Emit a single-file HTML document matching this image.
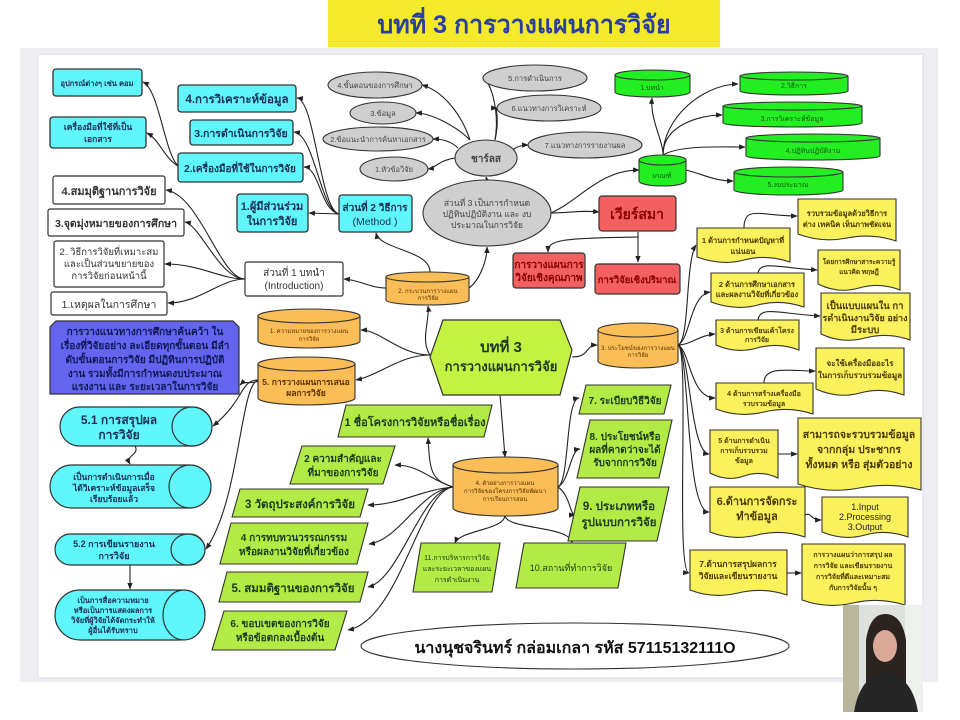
<!DOCTYPE html>
<html><head><meta charset="utf-8"><style>
html,body{margin:0;padding:0;background:#fff;}
svg{display:block;font-family:"Liberation Sans","DejaVu Sans",sans-serif;}
.b{font-weight:bold;}
</style></head><body>
<svg width="960" height="720" viewBox="0 0 960 720" xmlns="http://www.w3.org/2000/svg">
<defs>
<marker id="a" viewBox="0 0 10 10" refX="9" refY="5" markerWidth="6" markerHeight="6" orient="auto"><path d="M0 1 L10 5 L0 9 Z" fill="#222"/></marker>
</defs>
<rect width="960" height="720" fill="#fff"/>
<rect x="20" y="48" width="918" height="634" fill="#eeeef2"/>
<rect x="38" y="54" width="885" height="624" fill="#fff" stroke="#dcdce4"/>
<rect x="328" y="0" width="392" height="47" fill="#f4ea2a"/>
<text x="524" y="33" text-anchor="middle" class="b" font-size="25" fill="#2a3fa0">บทที่ 3 การวางแผนการวิจัย</text>

<g fill="none" stroke="#222" stroke-width="1.1" marker-end="url(#a)">
<path d="M180 167 C165 160 160 90 143 82"/>
<path d="M180 167 C165 160 160 140 147 133"/>
<path d="M339 214 C320 210 315 100 297 98"/>
<path d="M339 214 C320 210 315 135 294 132"/>
<path d="M339 214 C320 210 320 168 304 167"/>
<path d="M339 214 L309 213"/>
<path d="M245 279 C220 279 200 195 166 190"/>
<path d="M245 279 C220 279 200 225 185 222"/>
<path d="M245 279 C220 279 200 264 165 264"/>
<path d="M245 279 C220 279 200 303 168 303"/>
<path d="M386 288 C370 288 360 280 344 279"/>
<path d="M430 272 C430 250 380 250 376 233"/>
<path d="M469 288 C480 280 487 260 487 247"/>
<path d="M487 180 L486 177"/>
<path d="M455 158 C440 160 435 168 428 169"/>
<path d="M470 140 C460 110 440 90 422 85"/>
<path d="M470 140 C455 125 430 113 416 113"/>
<path d="M458 148 C450 140 440 139 433 139"/>
<path d="M495 140 C500 110 490 80 483 78"/>
<path d="M495 140 C500 120 495 108 497 108"/>
<path d="M512 150 C520 145 525 145 528 145"/>
<path d="M551 213 C570 213 580 210 599 212"/>
<path d="M551 213 C580 200 600 170 639 170"/>
<path d="M638 232 L638 262"/>
<path d="M638 237 C560 238 548 240 548 252"/>
<path d="M663 155 C663 140 650 120 652 98"/>
<path d="M663 155 C663 120 700 85 738 84"/>
<path d="M663 155 C663 125 700 115 722 115"/>
<path d="M663 155 C680 145 720 147 745 147"/>
<path d="M686 170 C705 175 715 181 733 181"/>
<path d="M430 355 C400 355 380 330 361 330"/>
<path d="M430 355 C400 355 380 375 356 380"/>
<path d="M430 355 C420 340 430 320 428 306"/>
<path d="M258 381 C250 385 245 380 240 385"/>
<path d="M572 357 C590 357 585 345 597 345"/>
<path d="M678 345 C690 340 685 262 696 245"/>
<path d="M678 345 C690 340 690 295 710 292"/>
<path d="M678 345 C690 345 700 335 715 334"/>
<path d="M678 345 C690 350 690 398 715 398"/>
<path d="M678 345 C690 350 690 452 709 454"/>
<path d="M678 345 C690 350 685 512 709 512"/>
<path d="M678 345 C690 350 675 572 689 573"/>
<path d="M744 228 C744 205 760 216 797 216"/>
<path d="M758 273 C760 260 780 268 817 270"/>
<path d="M758 320 C760 305 780 314 820 316"/>
<path d="M764 383 C764 365 790 371 815 371"/>
<path d="M778 454 L797 454"/>
<path d="M805 515 C812 512 810 520 821 520"/>
<path d="M787 573 L801 573"/>
<path d="M500 395 L505 457"/>
<path d="M453 487 C430 480 430 470 428 438"/>
<path d="M453 487 C430 480 420 465 395 465"/>
<path d="M453 487 C420 490 400 505 368 505"/>
<path d="M453 487 C420 490 400 540 369 544"/>
<path d="M453 487 C420 490 400 580 368 587"/>
<path d="M453 487 C420 490 400 620 348 630"/>
<path d="M558 487 C570 480 565 400 579 398"/>
<path d="M558 487 C570 480 570 450 580 449"/>
<path d="M558 487 C570 495 570 515 575 515"/>
<path d="M505 515 C505 530 460 530 455 543"/>
<path d="M505 515 C505 530 570 525 572 543"/>
<path d="M258 380 C240 380 245 400 213 426"/>
<path d="M258 380 C240 385 240 500 206 549"/>
<path d="M135 446 C140 455 125 455 130 464"/>
<path d="M130 565 L130 589"/>
</g>

<g stroke="#333" stroke-width="1.3" fill="#5ff6fc">
<rect x="53" y="69" width="89" height="27" rx="3"/>
<rect x="50" y="117" width="96" height="31" rx="3"/>
<rect x="178" y="85" width="118" height="27" rx="3"/>
<rect x="190" y="120" width="103" height="25" rx="3"/>
<rect x="178" y="153" width="125" height="29" rx="3"/>
<rect x="237" y="194" width="71" height="38" rx="3"/>
<rect x="339" y="195" width="73" height="37" rx="3"/>
</g>
<g fill="#1d2d55" class="b" text-anchor="middle">
<text x="97" y="86" font-size="7.5">อุปกรณ์ต่างๆ เช่น คอม</text>
<text x="98" y="130" font-size="8.5">เครื่องมือที่ใช้ที่เป็น</text><text x="98" y="142" font-size="8.5">เอกสาร</text>
<text x="237" y="103" font-size="11.5">4.การวิเคราะห์ข้อมูล</text>
<text x="241" y="137" font-size="10.5">3.การดำเนินการวิจัย</text>
<text x="240" y="172" font-size="10">2.เครื่องมือที่ใช้ในการวิจัย</text>
<text x="272" y="210" font-size="11">1.ผู้มีส่วนร่วม</text><text x="272" y="225" font-size="11">ในการวิจัย</text>
<text x="375" y="211" font-size="10">ส่วนที่ 2 วิธีการ</text><text x="375" y="225" font-size="10.5" font-weight="normal">(Method )</text>
</g>
<g stroke="#333" stroke-width="1.2" fill="#fff">
<rect x="53" y="176" width="112" height="28" rx="2"/>
<rect x="48" y="209" width="136" height="27" rx="2"/>
<rect x="54" y="241" width="110" height="46" rx="2"/>
<rect x="51" y="292" width="116" height="23" rx="2"/>
<rect x="245" y="262" width="98" height="34" rx="2"/>
</g>
<g fill="#333" text-anchor="middle">
<text x="109" y="195" font-size="11" class="b">4.สมมุติฐานการวิจัย</text>
<text x="116" y="227" font-size="10.5" class="b">3.จุดมุ่งหมายของการศึกษา</text>
<text x="109" y="255" font-size="9.5">2. วิธีการวิจัยที่เหมาะสม</text>
<text x="109" y="267" font-size="9.5">และเป็นส่วนขยายของ</text>
<text x="109" y="279" font-size="9.5">การวิจัยก่อนหน้านี้</text>
<text x="109" y="308" font-size="10.5">1.เหตุผลในการศึกษา</text>
<text x="294" y="276" font-size="10">ส่วนที่ 1 บทนำ</text><text x="294" y="289" font-size="10">(Introduction)</text>
</g>
<g stroke="#333" stroke-width="1.1" fill="#cfcfcf">
<ellipse cx="375" cy="85" rx="47" ry="13"/>
<ellipse cx="383" cy="113" rx="33" ry="11"/>
<ellipse cx="378" cy="139" rx="55" ry="12"/>
<ellipse cx="394" cy="169" rx="34" ry="12"/>
<ellipse cx="486" cy="158" rx="31" ry="18"/>
<ellipse cx="535" cy="78" rx="52" ry="13"/>
<ellipse cx="549" cy="108" rx="52" ry="13"/>
<ellipse cx="585" cy="145" rx="57" ry="13"/>
<ellipse cx="487" cy="213" rx="64" ry="33"/>
</g>
<g fill="#444" text-anchor="middle" font-size="7.5">
<text x="375" y="88">4.ขั้นตอนของการศึกษา</text>
<text x="383" y="116">3.ข้อมูล</text>
<text x="378" y="142">2.ข้อแนะนำการค้นหาเอกสาร</text>
<text x="394" y="172">1.หัวข้อวิจัย</text>
<text x="486" y="162" font-size="10" class="b">ชาร์ลส</text>
<text x="535" y="81">5.การดำเนินการ</text>
<text x="549" y="111">6.แนวทางการวิเคราะห์</text>
<text x="585" y="148">7.แนวทางการรายงานผล</text>
<text x="487" y="206" font-size="8.5">ส่วนที่ 3 เป็นการกำหนด</text>
<text x="487" y="217" font-size="8.5">ปฏิทินปฏิบัติงาน และ งบ</text>
<text x="487" y="228" font-size="8.5">ประมาณในการวิจัย</text>
</g>
<g stroke="#333" stroke-width="1.1" fill="#22ee22">
<path d="M615 75 V92 A37.5 5 0 0 0 690 92 V75"/><ellipse cx="652.5" cy="75" rx="37.5" ry="5"/>
<path d="M740 76 V91 A54 4 0 0 0 848 91 V76"/><ellipse cx="794" cy="76" rx="54" ry="4"/>
<path d="M723 106 V123 A69.5 4 0 0 0 862 123 V106"/><ellipse cx="792.5" cy="106" rx="69.5" ry="4"/>
<path d="M746 138 V156 A67 4 0 0 0 880 156 V138"/><ellipse cx="813" cy="138" rx="67" ry="4"/>
<path d="M734 172 V190 A54.5 5 0 0 0 843 190 V172"/><ellipse cx="788.5" cy="172" rx="54.5" ry="5"/>
<path d="M639 160 V181 A23.5 5 0 0 0 686 181 V160"/><ellipse cx="662.5" cy="160" rx="23.5" ry="5"/>
</g>
<g fill="#115511" text-anchor="middle" font-size="7">
<text x="652" y="90">1.บทนำ</text><text x="794" y="88">2.วิธีการ</text>
<text x="792" y="121">3.การวิเคราะห์ข้อมูล</text><text x="813" y="153">4.ปฏิทินปฏิบัติงาน</text>
<text x="788" y="187">5.งบประมาณ</text><text x="662" y="178">เกณฑ์</text>
</g>
<g stroke="#333" stroke-width="1.2" fill="#f26060">
<rect x="599" y="196" width="77" height="35" rx="3"/>
<rect x="513" y="253" width="72" height="35" rx="3"/>
<rect x="595" y="264" width="85" height="30" rx="3"/>
</g>
<g fill="#8a0000" class="b" text-anchor="middle">
<text x="637" y="219" font-size="14">เวียร์สมา</text>
<text x="549" y="268" font-size="10">การวางแผนการ</text><text x="549" y="281" font-size="10">วิจัยเชิงคุณภาพ</text>
<text x="637" y="283" font-size="9.5">การวิจัยเชิงปริมาณ</text>
</g>
<g stroke="#333" stroke-width="1.1" fill="#fbbd55">
<path d="M386 277 V300 A41.5 5 0 0 0 469 300 V277"/><ellipse cx="427.5" cy="277" rx="41.5" ry="5"/>
<path d="M258 316 V341 A51 7 0 0 0 360 341 V316"/><ellipse cx="309" cy="316" rx="51" ry="7"/>
<path d="M258 364 V398 A48.5 7 0 0 0 355 398 V364"/><ellipse cx="306.5" cy="364" rx="48.5" ry="7"/>
<path d="M598 330 V361 A40 7 0 0 0 678 361 V330"/><ellipse cx="638" cy="330" rx="40" ry="7"/>
<path d="M453 465 V508 A52.5 8 0 0 0 558 508 V465"/><ellipse cx="505.5" cy="465" rx="52.5" ry="8"/>
</g>
<g fill="#5a3300" text-anchor="middle" font-size="6">
<text x="428" y="293">2. กระบวนการวางแผน</text><text x="428" y="300">การวิจัย</text>
<text x="309" y="333">1. ความหมายของการวางแผน</text><text x="309" y="341">การวิจัย</text>
<text x="306" y="385" font-size="8.5" class="b">5. การวางแผนการเสนอ</text><text x="306" y="396" font-size="8.5" class="b">ผลการวิจัย</text>
<text x="638" y="350">3. ประโยชน์ของการวางแผน</text><text x="638" y="357">การวิจัย</text>
<text x="505" y="485">4. ตัวอย่างการวางแผน</text><text x="505" y="493">การวิจัยของโครงการวิจัยพัฒนา</text><text x="505" y="501">การเรียนการสอน</text>
</g>
<path d="M56 321 H233 L239 327 V394 H50 V327 Z" fill="#6464ee" stroke="#333" stroke-width="1.2"/>
<g fill="#111a55" text-anchor="middle" font-size="10" class="b">
<text x="145" y="335">การวางแนวทางการศึกษาค้นคว้า ใน</text>
<text x="145" y="349">เรื่องที่วิจัยอย่าง ละเอียดทุกขั้นตอน มีลำ</text>
<text x="145" y="363">ดับขั้นตอนการวิจัย มีปฏิทินการปฏิบัติ</text>
<text x="145" y="377">งาน รวมทั้งมีการกำหนดงบประมาณ</text>
<text x="145" y="390">แรงงาน และ ระยะเวลาในการวิจัย</text>
</g>
<path d="M443 320 H560 L572 350 L560 395 H443 L430 357 Z" fill="#c4f242" stroke="#333" stroke-width="1.2"/>
<text x="501" y="352" text-anchor="middle" class="b" font-size="15" fill="#1d3a1d">บทที่ 3</text>
<text x="501" y="371" text-anchor="middle" class="b" font-size="13" fill="#1d3a1d">การวางแผนการวิจัย</text>
<g stroke="#333" stroke-width="1.2" fill="#5ff6fc">
<rect x="60" y="407" width="152" height="39" rx="19.5"/><ellipse cx="192" cy="426.5" rx="20" ry="19.5"/>
<rect x="50" y="465" width="161" height="43" rx="21.5"/><ellipse cx="190" cy="486.5" rx="21" ry="21.5"/>
<rect x="55" y="534" width="150" height="31" rx="15.5"/><ellipse cx="188" cy="549.5" rx="17" ry="15.5"/>
<rect x="55" y="590" width="150" height="50" rx="25"/><ellipse cx="184" cy="615" rx="21" ry="25"/>
</g>
<g fill="#1d2d55" class="b" text-anchor="middle">
<text x="119" y="424" font-size="12">5.1 การสรุปผล</text><text x="119" y="439" font-size="12">การวิจัย</text>
<text x="114" y="480" font-size="8.5">เป็นการดำเนินการเมื่อ</text><text x="114" y="491" font-size="8.5">ได้วิเคราะห์ข้อมูลเสร็จ</text><text x="114" y="502" font-size="8.5">เรียบร้อยแล้ว</text>
<text x="114" y="547" font-size="9">5.2 การเขียนรายงาน</text><text x="114" y="559" font-size="9">การวิจัย</text>
<text x="113" y="603" font-size="7.5">เป็นการสื่อความหมาย</text><text x="113" y="613" font-size="7.5">หรือเป็นการแสดงผลการ</text><text x="113" y="623" font-size="7.5">วิจัยที่ผู้วิจัยได้จัดกระทำให้</text><text x="113" y="633" font-size="7.5">ผู้อื่นได้รับทราบ</text>
</g>
<g stroke="#333" stroke-width="1.1" fill="#b2ea46">
<path d="M346 405 H492 L484 437 H338 Z"/>
<path d="M302 446 H395 L383 484 H290 Z"/>
<path d="M240 489 H368 L360 517 H232 Z"/>
<path d="M231 523 H368 L357 564 H220 Z"/>
<path d="M227 572 H368 L360 602 H219 Z"/>
<path d="M224 611 H347 L335 650 H212 Z"/>
<path d="M586 385 H671 L664 414 H579 Z"/>
<path d="M590 420 H672 L659 478 H577 Z"/>
<path d="M580 487 H669 L657 541 H568 Z"/>
<path d="M421 543 H500 L492 592 H413 Z"/>
<path d="M524 543 H626 L618 588 H516 Z"/>
</g>
<g fill="#1d3a1d" text-anchor="middle" class="b">
<text x="415" y="426" font-size="11">1 ชื่อโครงการวิจัยหรือชื่อเรื่อง</text>
<text x="343" y="462" font-size="10">2 ความสำคัญและ</text><text x="343" y="476" font-size="10">ที่มาของการวิจัย</text>
<text x="300" y="508" font-size="11.5">3 วัตถุประสงค์การวิจัย</text>
<text x="294" y="541" font-size="10">4 การทบทวนวรรณกรรม</text><text x="294" y="555" font-size="10">หรือผลงานวิจัยที่เกี่ยวข้อง</text>
<text x="293" y="592" font-size="11.5">5. สมมติฐานของการวิจัย</text>
<text x="280" y="627" font-size="10">6. ขอบเขตของการวิจัย</text><text x="280" y="641" font-size="10">หรือข้อตกลงเบื้องต้น</text>
<text x="625" y="404" font-size="10">7. ระเบียบวิธีวิจัย</text>
<text x="625" y="440" font-size="10">8. ประโยชน์หรือ</text><text x="625" y="453" font-size="10">ผลที่คาดว่าจะได้</text><text x="625" y="466" font-size="10">รับจากการวิจัย</text>
<text x="619" y="510" font-size="11.5">9. ประเภทหรือ</text><text x="619" y="526" font-size="11.5">รูปแบบการวิจัย</text>
<text x="457" y="560" font-size="7" font-weight="normal">11.การบริหารการวิจัย</text><text x="457" y="571" font-size="7" font-weight="normal">และระยะเวลาของแผน</text><text x="457" y="582" font-size="7" font-weight="normal">การดำเนินงาน</text>
<text x="571" y="571" font-size="9" font-weight="normal">10.สถานที่ทำการวิจัย</text>
</g>
<g stroke="#333" stroke-width="1.1" fill="#fbf15c">
<path d="M697 228 H790 V262 Q766 254 744 260 T697 257 Z"/>
<path d="M798 199 H896 V241 Q872 233 847 238 T798 234 Z"/>
<path d="M711 273 H804 V307 Q780 299 758 305 T711 302 Z"/>
<path d="M818 250 H900 V290 Q880 282 859 288 T818 284 Z"/>
<path d="M716 320 H799 V350 Q778 342 757 348 T716 345 Z"/>
<path d="M821 293 H910 V340 Q888 332 865 338 T821 334 Z"/>
<path d="M716 383 H813 V414 Q789 406 764 412 T716 409 Z"/>
<path d="M816 348 H904 V395 Q882 387 860 393 T816 389 Z"/>
<path d="M710 430 H778 V478 Q761 470 744 476 T710 473 Z"/>
<path d="M798 418 H921 V490 Q890 482 859 488 T798 484 Z"/>
<path d="M710 487 H805 V537 Q781 529 757 535 T710 532 Z"/>
<path d="M822 497 H908 V537 Q886 529 865 535 T822 532 Z"/>
<path d="M690 550 H787 V595 Q763 587 738 593 T690 590 Z"/>
<path d="M802 544 H905 V605 Q879 597 853 603 T802 600 Z"/>
</g>
<g fill="#4a3a00" text-anchor="middle" class="b">
<text x="743" y="243" font-size="7.5">1 ด้านการกำหนดปัญหาที่</text><text x="743" y="254" font-size="7.5">แน่นอน</text>
<text x="847" y="216" font-size="7.5">รวบรวมข้อมูลด้วยวิธีการ</text><text x="847" y="227" font-size="7.5">ต่าง เทคนิค เห็นภาพชัดเจน</text>
<text x="757" y="287" font-size="7.5">2 ด้านการศึกษาเอกสาร</text><text x="757" y="297" font-size="7.5">และผลงานวิจัยที่เกี่ยวข้อง</text>
<text x="859" y="264" font-size="6.5">โดยการศึกษาสาระความรู้</text><text x="859" y="274" font-size="6.5">แนวคิด ทฤษฎี</text>
<text x="757" y="333" font-size="7">3 ด้านการเขียนเค้าโครง</text><text x="757" y="342" font-size="7">การวิจัย</text>
<text x="865" y="309" font-size="9.5">เป็นแบบแผนใน กา</text><text x="865" y="321" font-size="9">รดำเนินงานวิจัย อย่าง</text><text x="865" y="333" font-size="9.5">มีระบบ</text>
<text x="764" y="396" font-size="7">4 ด้านการสร้างเครื่องมือ</text><text x="764" y="406" font-size="7">รวบรวมข้อมูล</text>
<text x="860" y="366" font-size="8">จะใช้เครื่องมืออะไร</text><text x="860" y="378" font-size="8">ในการเก็บรวบรวมข้อมูล</text>
<text x="744" y="443" font-size="7">5 ด้านการดำเนิน</text><text x="744" y="453" font-size="7">การเก็บรวบรวม</text><text x="744" y="463" font-size="7">ข้อมูล</text>
<text x="859" y="438" font-size="10.5">สามารถจะรวบรวมข้อมูล</text><text x="859" y="453" font-size="10.5">จากกลุ่ม ประชากร</text><text x="859" y="468" font-size="10.5">ทั้งหมด หรือ สุ่มตัวอย่าง</text>
<text x="757" y="505" font-size="11">6.ด้านการจัดกระ</text><text x="757" y="520" font-size="11">ทำข้อมูล</text>
<text x="865" y="510" font-size="9" font-weight="normal" fill="#222">1.Input</text><text x="865" y="520" font-size="9" font-weight="normal" fill="#222">2.Processing</text><text x="865" y="530" font-size="9" font-weight="normal" fill="#222">3.Output</text>
<text x="738" y="567" font-size="8.5">7.ด้านการสรุปผลการ</text><text x="738" y="579" font-size="8.5">วิจัยและเขียนรายงาน</text>
<text x="853" y="557" font-size="7">การวางแผนว่าการสรุป ผล</text><text x="853" y="568" font-size="7">การวิจัย และเขียนรายงาน</text><text x="853" y="579" font-size="7">การวิจัยที่ดีและเหมาะสม</text><text x="853" y="590" font-size="7">กับการวิจัยนั้น ๆ</text>
</g>
<ellipse cx="575" cy="646" rx="214" ry="23" fill="#fff" stroke="#333" stroke-width="1.1"/>
<text x="575" y="653" text-anchor="middle" class="b" font-size="16" fill="#111">นางนุชจรินทร์ กล่อมเกลา รหัส 57115132111O</text>
<rect x="843" y="605" width="80" height="107" fill="#dfe2dc"/>
<rect x="843" y="605" width="16" height="107" fill="#b8b79c"/>
<rect x="905" y="605" width="18" height="107" fill="#eef0ee"/>
<path d="M866 690 V640 Q870 614 885 614 Q902 614 906 640 V690 Z" fill="#2a2320"/>
<ellipse cx="885" cy="646" rx="12" ry="16" fill="#dca898"/>
<path d="M854 712 Q860 676 885 672 Q912 676 918 712 Z" fill="#262626"/>
</svg>
</body></html>
